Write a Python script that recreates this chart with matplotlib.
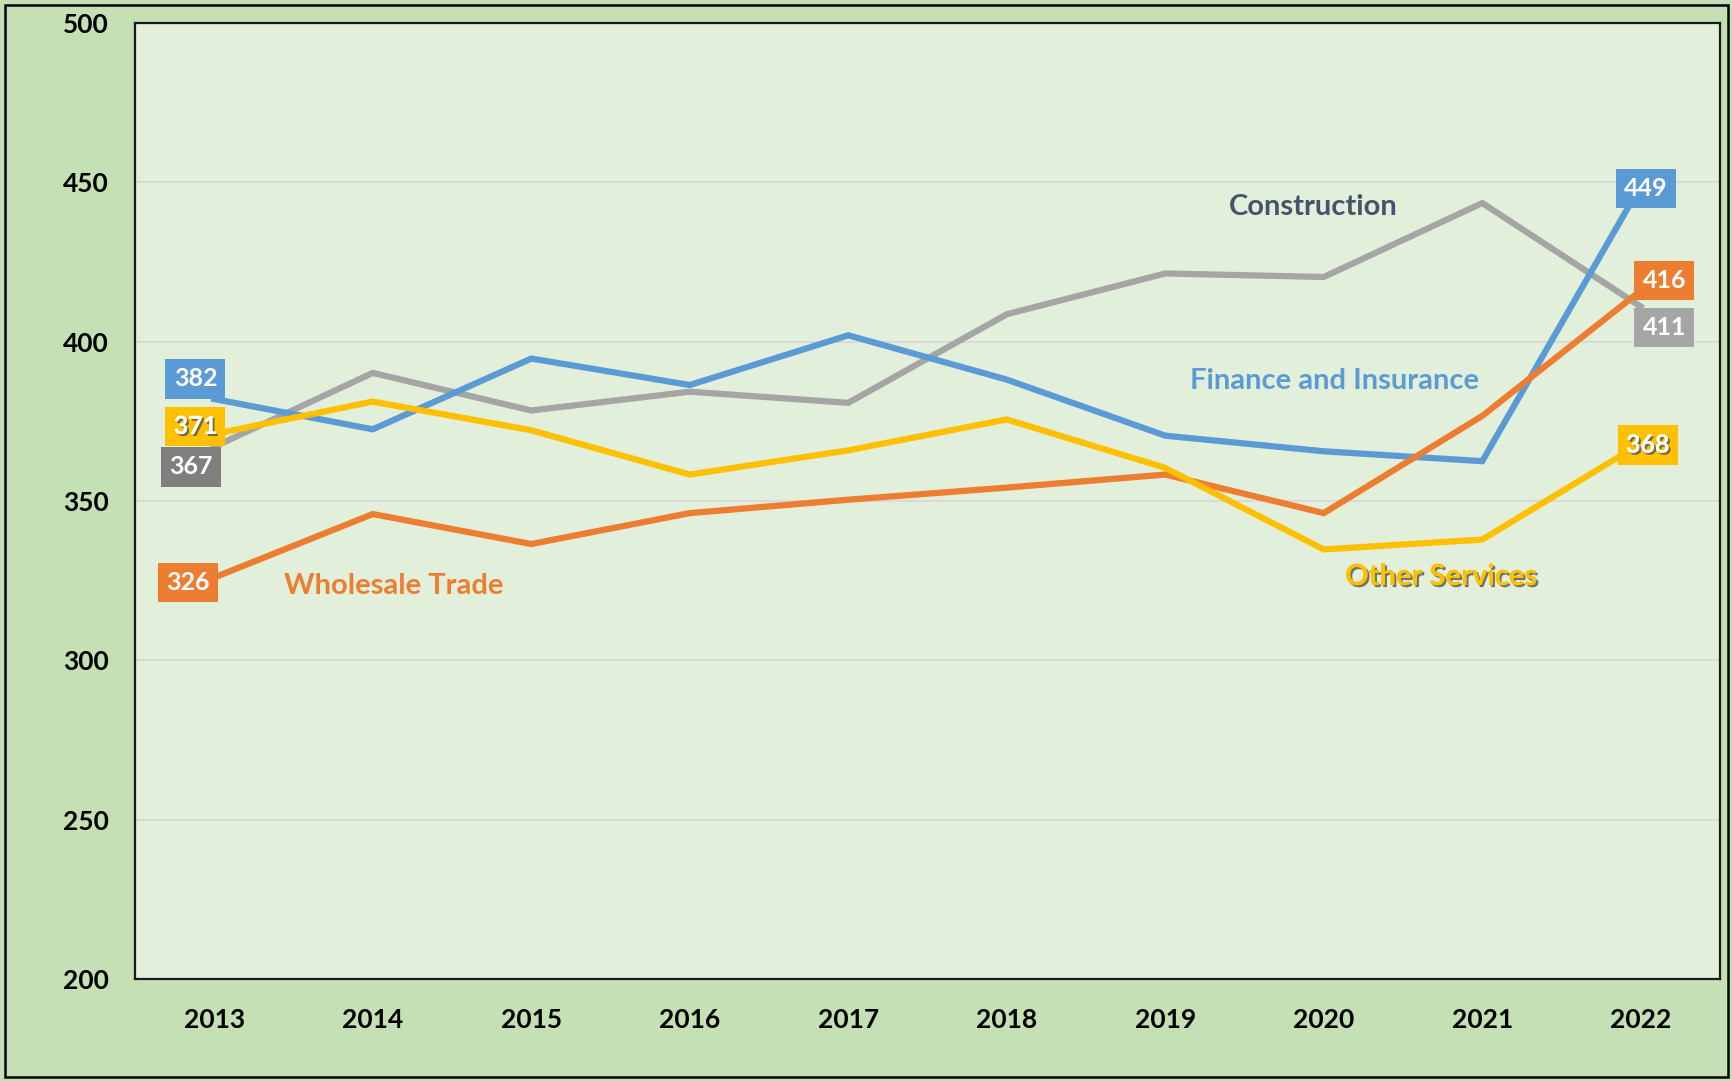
import matplotlib
matplotlib.use("Agg")
import matplotlib.pyplot as plt
import matplotlib.patheffects as pe
from matplotlib.patches import Rectangle

years = ["2013", "2014", "2015", "2016", "2017", "2018", "2019", "2020", "2021", "2022"]
finance = [382, 372.5, 394.7, 386.4, 402, 388.1, 370.5, 365.6, 362.5, 449]
construction = [367, 390.2, 378.4, 384.3, 380.8, 408.6, 421.4, 420.3, 443.5, 411]
other_services = [371, 381.2, 372.2, 358.3, 365.9, 375.6, 360.4, 334.8, 337.9, 368]
wholesale = [326, 345.9, 336.5, 346.2, 350.4, 354.2, 358.3, 346.2, 376.7, 416]
yticks = [200, 250, 300, 350, 400, 450, 500]

plt.rcParams['font.family'] = ['Lato', 'DejaVu Sans']

W, H = 1733, 1081
fig = plt.figure(figsize=(W / 100, H / 100), dpi=100)
fig.patch.set_facecolor('#C5E0B4')
ax = fig.add_axes([135 / W, 1 - 979 / H, (1720 - 135) / W, (979 - 23) / H])
ax.set_facecolor('#E2EFDA')

x = list(range(len(years)))
BLUE, ORANGE, GRAY, YELLOW = '#5B9BD5', '#ED7D31', '#A5A5A5', '#FFC000'

ax.plot(x, construction, color=GRAY, lw=4.5, solid_joinstyle='miter', zorder=3)
ax.plot(x, finance, color=BLUE, lw=4.5, solid_joinstyle='miter', zorder=4)
ax.plot(x, wholesale, color=ORANGE, lw=4.5, solid_joinstyle='miter', zorder=4)
ax.plot(x, other_services, color=YELLOW, lw=4.5, solid_joinstyle='miter', zorder=5)

ax.set_xlim(-0.5, len(years) - 0.5)
ax.set_ylim(200, 500)
ax.set_yticks(yticks)
ax.set_yticklabels([str(v) for v in yticks])
ax.set_xticks(x)
ax.set_xticklabels(years)
ax.tick_params(axis='both', length=0, labelsize=19)
ax.tick_params(axis='y', pad=19)
ax.tick_params(axis='x', pad=21)
for lab in ax.get_xticklabels() + ax.get_yticklabels():
    lab.set_fontweight('bold')
ax.grid(axis='y', color='#D9D9D9', lw=1.5, zorder=0)
ax.set_axisbelow(True)
for s in ax.spines.values():
    s.set_color('#1a1a1a')
    s.set_linewidth(1.6)

shadow = [pe.withSimplePatchShadow(offset=(1.5, -1.5), shadow_rgbFace='#555555', alpha=0.8), pe.Normal()]

def box_label(i, series, fc, dx, dy, shadowed=False):
    val = series[i]
    t = ax.annotate(f"{val:.0f}", (x[i], val), xytext=(dx, dy), textcoords='offset points',
                    ha='center', va='center', fontsize=18, fontweight='bold', color='white',
                    bbox=dict(boxstyle='square,pad=0.33', fc=fc, ec='none'), zorder=10)
    if shadowed:
        t.set_path_effects(shadow)
    return t

# left labels (offsets in points; 1pt = 1.389px)
box_label(0, finance, BLUE, -13.5, 14.5)
box_label(0, other_services, YELLOW, -13.5, 5.5, shadowed=True)
box_label(0, construction, '#7F7F7F', -16.5, -14.5)
box_label(0, wholesale, ORANGE, -19, -3.5)
# right labels
box_label(9, finance, BLUE, 3.5, -2)
box_label(9, wholesale, ORANGE, 17, 7.5)
box_label(9, construction, GRAY, 17, -15)
box_label(9, other_services, YELLOW, 5, -1, shadowed=True)

def px(xp, yp):
    return (xp / W, 1 - yp / H)

fig.text(*px(1313, 207), "Construction", color='#44546A', fontsize=21, fontweight='bold',
         ha='center', va='center')
fig.text(*px(1335, 381), "Finance and Insurance", color=BLUE, fontsize=21, fontweight='bold',
         ha='center', va='center')
fig.text(*px(394, 586), "Wholesale Trade", color=ORANGE, fontsize=21, fontweight='bold',
         ha='center', va='center')
t = fig.text(*px(1441, 577), "Other Services", color=YELLOW, fontsize=21, fontweight='bold',
             ha='center', va='center')
t.set_path_effects(shadow)

fig.add_artist(Rectangle((5 / W, 1 - 1077 / H), (1728 - 5) / W, (1077 - 5) / H,
                         transform=fig.transFigure, fill=False, ec='black', lw=1.8))

fig.savefig('out.png', dpi=100, facecolor=fig.get_facecolor())
